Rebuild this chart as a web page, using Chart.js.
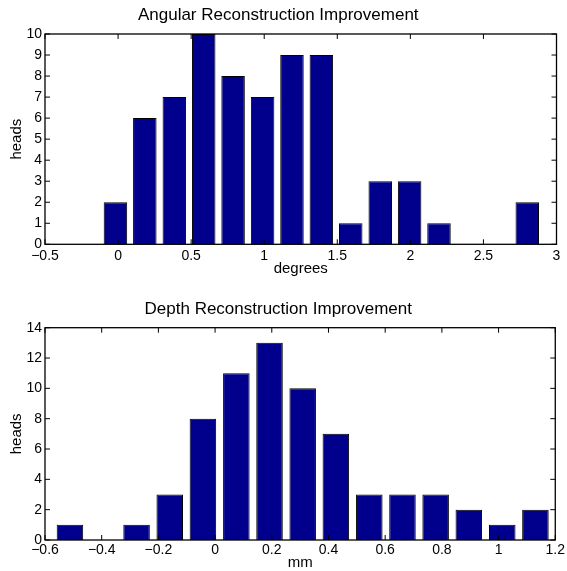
<!DOCTYPE html>
<html>
<head>
<meta charset="utf-8">
<script src="https://cdn.jsdelivr.net/npm/chart.js@4.4.1/dist/chart.umd.min.js"></script>
<style>
  html, body { margin: 0; padding: 0; background: #fff; }
  canvas { position: absolute; left: 0; }
  #angular { top: 0; }
  #depth { top: 285px; }
</style>
</head>
<body>
<canvas id="angular" width="567" height="285"></canvas>
<canvas id="depth" width="567" height="286"></canvas>
<script>
// histogram bin centres and counts
const angleBins = [-0.421, -0.220, -0.018, 0.183, 0.385, 0.586, 0.787, 0.989, 1.190, 1.391, 1.592, 1.794, 1.995, 2.196, 2.397, 2.599, 2.800];
const angleCounts = [0, 0, 2, 6, 7, 10, 8, 7, 9, 9, 1, 3, 3, 1, 0, 0, 2];
const angleXTicks = [-0.5, 0, 0.5, 1, 1.5, 2, 2.5, 3];
const angleYTicks = [0, 1, 2, 3, 4, 5, 6, 7, 8, 9, 10];

const depthBins = [-0.512, -0.394, -0.277, -0.160, -0.043, 0.075, 0.192, 0.309, 0.426, 0.544, 0.661, 0.778, 0.895, 1.013, 1.130];
const depthCounts = [1, 0, 1, 3, 8, 11, 13, 10, 7, 3, 3, 3, 2, 1, 2];
const depthXTicks = [-0.6, -0.4, -0.2, 0, 0.2, 0.4, 0.6, 0.8, 1, 1.2];
const depthYTicks = [0, 2, 4, 6, 8, 10, 12, 14];

const FONT = "'Liberation Sans', Arial, Helvetica, sans-serif";
const BAR = 'rgb(0,0,140)';

Chart.defaults.font.family = FONT;
Chart.defaults.color = '#000';

// matlab style box with ticks pointing inwards
const axesBox = {
  id: 'axesBox',
  afterDatasetsDraw(chart) {
    const { ctx, chartArea: a, scales: { x, y } } = chart;
    const len = 5;
    ctx.save();
    ctx.strokeStyle = '#000';
    ctx.lineWidth = 1;
    ctx.beginPath();
    x.ticks.forEach(t => {
      const px = x.getPixelForValue(t.value);
      ctx.moveTo(px, a.bottom); ctx.lineTo(px, a.bottom - len);
      ctx.moveTo(px, a.top); ctx.lineTo(px, a.top + len);
    });
    y.ticks.forEach(t => {
      const py = y.getPixelForValue(t.value);
      ctx.moveTo(a.left, py); ctx.lineTo(a.left + len, py);
      ctx.moveTo(a.right, py); ctx.lineTo(a.right - len, py);
    });
    ctx.stroke();
    ctx.lineWidth = 1.3;
    ctx.strokeRect(a.left, a.top, a.right - a.left, a.bottom - a.top);
    ctx.restore();
  }
};

const fmt = v => (v < 0 ? '\u2212' + Math.abs(v) : String(v));

function histogram(id, cfg) {
  return new Chart(document.getElementById(id), {
    type: 'bar',
    data: {
      datasets: [{
        data: cfg.bins.map((b, i) => ({ x: b, y: cfg.counts[i] })),
        backgroundColor: BAR,
        borderColor: '#000',
        borderWidth: 1,
        barPercentage: 0.8,
        categoryPercentage: 1
      }]
    },
    options: {
      responsive: false,
      animation: false,
      devicePixelRatio: 1,
      layout: { padding: { left: 0, right: 10.5, top: 0, bottom: 0 } },
      plugins: {
        legend: { display: false },
        tooltip: { enabled: false },
        title: {
          display: true,
          text: cfg.title,
          color: '#000',
          font: { size: 17, weight: 'normal' },
          padding: cfg.titlePad
        }
      },
      scales: {
        x: {
          type: 'linear',
          min: cfg.xTicks[0],
          max: cfg.xTicks[cfg.xTicks.length - 1],
          offset: false,
          grid: { display: false, drawTicks: false },
          border: { display: false },
          afterBuildTicks: s => { s.ticks = cfg.xTicks.map(v => ({ value: v })); },
          ticks: { font: { size: 14 }, color: '#000', padding: cfg.xTickPad, maxRotation: 0, autoSkip: false, callback: fmt },
          title: { display: true, text: cfg.xLabel, color: '#000', font: { size: 15, lineHeight: 1 }, padding: { top: 0, bottom: cfg.xTitlePad } },
          afterFit: s => { s.height = cfg.xHeight; }
        },
        y: {
          min: 0,
          max: cfg.yTicks[cfg.yTicks.length - 1],
          grid: { display: false, drawTicks: false },
          border: { display: false },
          afterBuildTicks: s => { s.ticks = cfg.yTicks.map(v => ({ value: v })); },
          ticks: { font: { size: 14 }, color: '#000', padding: 3, autoSkip: false },
          title: { display: true, text: 'heads', color: '#000', font: { size: 15, lineHeight: 1 }, padding: { top: 9.2, bottom: 0 } },
          afterFit: s => { s.width = 45; }
        }
      }
    },
    plugins: [axesBox]
  });
}

histogram('angular', {
  bins: angleBins, counts: angleCounts, xTicks: angleXTicks, yTicks: angleYTicks,
  title: 'Angular Reconstruction Improvement', xLabel: 'degrees',
  titlePad: { top: 5.5, bottom: 8.1 }, xHeight: 40.7, xTickPad: 3.3, xTitlePad: 8.75
});

histogram('depth', {
  bins: depthBins, counts: depthCounts, xTicks: depthXTicks, yTicks: depthYTicks,
  title: 'Depth Reconstruction Improvement', xLabel: 'mm',
  titlePad: { top: 13.8, bottom: 8.5 }, xHeight: 31, xTickPad: 2, xTitlePad: 0.5
});
</script>
</body>
</html>
